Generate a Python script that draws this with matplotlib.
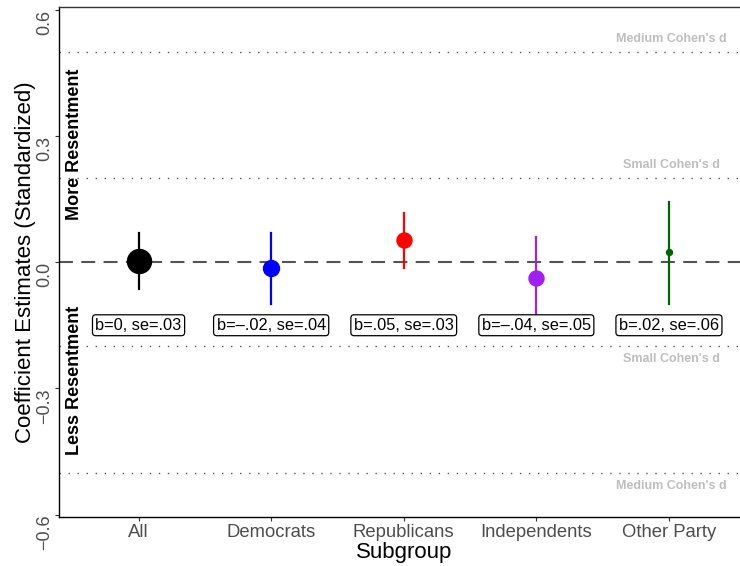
import matplotlib
matplotlib.use("Agg")
import matplotlib.pyplot as plt

plt.rcParams['font.family'] = ['Liberation Sans', 'DejaVu Sans']

# estimates
subgroups = ["All", "Democrats", "Republicans", "Independents", "Other Party"]
estimate = [0.002, -0.015, 0.052, -0.038, 0.023]
ci_low = [-0.064, -0.099, -0.014, -0.133, -0.099]
ci_high = [0.069, 0.069, 0.117, 0.060, 0.144]
labels = ["b=0, se=.03", "b=-.02, se=.04", "b=.05, se=.03", "b=-.04, se=.05", "b=.02, se=.06"]

# cohen's d reference lines
cohen_vals = [0.5, 0.2, -0.2, -0.5]
cohen_names = ["Medium Cohen's d", "Small Cohen's d", "Small Cohen's d", "Medium Cohen's d"]

colors = ["black", "blue", "red", "#A020F0", "#006400"]
marker_size = [17.3, 11.5, 10.8, 10.8, 4.3]

fig = plt.figure(figsize=(7.4, 5.66), dpi=100)
ax = fig.add_axes([59 / 740, 1 - 516.7 / 566, (748.5 - 59) / 740, (516.7 - 6.7) / 566])

x = list(range(1, len(subgroups) + 1))

for v in cohen_vals:
    ax.axhline(v, color="#555555", lw=1.0, ls=(0, (1, 5.5)), zorder=1)
ax.axhline(0, color="#555555", lw=1.5, ls=(0, (6.7, 4.0)), zorder=1)

for i in range(len(subgroups)):
    ax.plot([x[i], x[i]], [ci_low[i], ci_high[i]], color=colors[i], lw=1.6, zorder=3)
    ax.plot(x[i], estimate[i], "o", color=colors[i], ms=marker_size[i], zorder=4)
    lab = labels[i].replace("-", "\u2013")
    ax.text(x[i], -0.15, lab, ha="center", va="center", fontsize=11.8, zorder=5,
            bbox=dict(boxstyle="round,pad=0.18,rounding_size=0.2", fc="white", ec="black", lw=0.9))

for v, name in zip(cohen_vals, cohen_names):
    ty = v + 0.031 if v > 0 else v - 0.031
    ax.text(5.02, ty, name, ha="center", va="center", fontsize=9,
            fontweight="bold", color="#BEBEBE")

ax.text(0.515, 0.28, "More Resentment", rotation=90, ha="center", va="center",
        fontsize=13, fontweight="bold")
ax.text(0.515, -0.28, "Less Resentment", rotation=90, ha="center", va="center",
        fontsize=13, fontweight="bold")

ax.set_xlim(0.4, 5.6)
ax.set_ylim(-0.605, 0.607)
ax.set_xticks(x)
ax.set_xticklabels(subgroups, fontsize=13.3, color="#4D4D4D")
ax.set_yticks([-0.6, -0.3, 0.0, 0.3, 0.6])
ax.set_yticklabels(["\u22120.6", "\u22120.3", "0.0", "0.3", "0.6"], fontsize=13,
                   color="#4D4D4D", rotation=90, va="top")
ax.tick_params(axis="both", length=3, width=0.8, color="#333333")
ax.tick_params(axis="x", pad=2)
ax.tick_params(axis="y", pad=1)

ax.set_xlabel("Subgroup", fontsize=16, labelpad=1)
ax.set_ylabel("Coefficient Estimates (Standardized)", fontsize=16, va="center")
ax.yaxis.set_label_coords(-33 / 689.5, 0.5)

ax.spines["left"].set_linewidth(1.0)
ax.spines["bottom"].set_linewidth(1.0)
ax.spines["top"].set_linewidth(1.0)
ax.spines["top"].set_color("#333333")
ax.spines["right"].set_visible(False)

fig.savefig("out.png", dpi=100)
